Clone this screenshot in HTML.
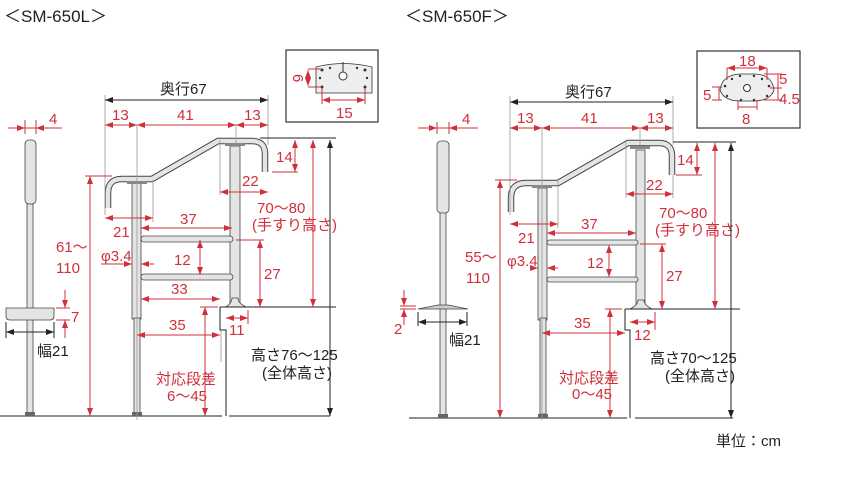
<!DOCTYPE html>
<html><head><meta charset="utf-8"><style>
body{margin:0;background:#fff;}
svg{display:block;font-family:"Liberation Sans","Noto Sans CJK JP",sans-serif;}
.r{stroke:#d0303a;stroke-width:1;fill:none}
.g{stroke:#999;stroke-width:0.8;fill:none}
.k{stroke:#222;stroke-width:1;fill:none}
.t{fill:#d0303a;font-size:15px;font-family:"Liberation Sans","Noto Sans CJK JP",sans-serif}
.tk{fill:#222;font-size:15px;font-family:"Liberation Sans","Noto Sans CJK JP",sans-serif}
.pole{fill:#e4e4e4;stroke:#444;stroke-width:0.8}
</style></head><body>
<svg width="850" height="500" viewBox="0 0 850 500" xmlns="http://www.w3.org/2000/svg">
<defs>
<marker id="a" viewBox="0 0 8 6" refX="8" refY="3" markerWidth="8" markerHeight="6" orient="auto-start-reverse"><path d="M0,0L8,3L0,6z" fill="#d0303a"/></marker>
<marker id="b" viewBox="0 0 8 6" refX="8" refY="3" markerWidth="8" markerHeight="6" orient="auto-start-reverse"><path d="M0,0L8,3L0,6z" fill="#222"/></marker>
</defs>
<text x="4" y="22" font-size="17" fill="#222">＜SM-650L＞</text>
<text x="405" y="22" font-size="17" fill="#222">＜SM-650F＞</text>

<!-- ========== LEFT ========== -->
<line class="k" x1="0" y1="416" x2="222" y2="416"/>
<line class="k" x1="229" y1="416" x2="330" y2="416"/>
<rect class="pole" x="27" y="200" width="6" height="214"/>
<rect class="pole" x="25" y="140" width="11" height="64" rx="4"/>
<path class="pole" d="M6,308 H54 V316 Q54,320 50,320 H10 Q6,320 6,316z"/>
<rect x="25" y="412" width="10" height="4" fill="#666"/>
<line class="r" x1="8" y1="128" x2="62" y2="128"/>
<line class="r" x1="14" y1="128" x2="25" y2="128" marker-end="url(#a)"/>
<line class="r" x1="47" y1="128" x2="36" y2="128" marker-end="url(#a)"/>
<line class="r" x1="25" y1="120" x2="25" y2="134"/><line class="r" x1="36" y1="120" x2="36" y2="134"/>
<text class="t" x="49" y="124">4</text>
<line class="r" x1="56" y1="308" x2="70" y2="308"/><line class="r" x1="56" y1="320" x2="70" y2="320"/>
<line class="r" x1="65" y1="290" x2="65" y2="308" marker-end="url(#a)"/>
<line class="r" x1="65" y1="338" x2="65" y2="320" marker-end="url(#a)"/>
<text class="t" x="71" y="322">7</text>
<line class="k" x1="6" y1="322" x2="6" y2="338"/><line class="k" x1="54" y1="322" x2="54" y2="338"/>
<line class="k" x1="6" y1="332" x2="54" y2="332" marker-start="url(#b)" marker-end="url(#b)"/>
<text class="tk" x="37" y="356">幅21</text>

<rect class="pole" x="132" y="183" width="9" height="136"/>
<rect class="pole" x="134" y="318" width="6" height="96"/>
<rect x="132" y="412" width="10" height="4" fill="#666"/>
<rect class="pole" x="230" y="146" width="10" height="160"/>
<path class="pole" d="M226,307 Q232,303 232,298 H238 Q238,303 246,307z"/>
<rect class="pole" x="141" y="236" width="92" height="6" rx="3"/>
<rect class="pole" x="141" y="274" width="92" height="6" rx="3"/>
<path d="M108,208 V193 Q108,179 122,179 H152 L218,141 H252 Q265,141 265,154 V172" stroke="#444" stroke-width="6.5" fill="none"/>
<path d="M108,208 V193 Q108,179 122,179 H152 L218,141 H252 Q265,141 265,154 V172" stroke="#e4e4e4" stroke-width="4.5" fill="none"/>
<rect x="127" y="181" width="20" height="3" fill="#888"/>
<rect x="225" y="143" width="20" height="3" fill="#888"/>
<line class="k" x1="220" y1="307" x2="336" y2="307"/>
<path class="k" d="M220,307 V330 H226 V416"/>
<line class="g" x1="105" y1="95" x2="105" y2="215"/>
<line class="g" x1="268" y1="95" x2="268" y2="145"/>
<line x1="105" y1="100" x2="268" y2="100" stroke="#222" marker-start="url(#b)" marker-end="url(#b)"/>
<text class="tk" x="160" y="94">奥行67</text>
<line class="r" x1="105" y1="125" x2="137" y2="125" marker-start="url(#a)" marker-end="url(#a)"/>
<line class="r" x1="137" y1="125" x2="236" y2="125" marker-start="url(#a)" marker-end="url(#a)"/>
<line class="r" x1="236" y1="125" x2="268" y2="125" marker-start="url(#a)" marker-end="url(#a)"/>
<line class="g" x1="137" y1="125" x2="137" y2="420"/>
<line class="g" x1="236" y1="125" x2="236" y2="145"/>
<text class="t" x="112" y="120">13</text><text class="t" x="177" y="120">41</text><text class="t" x="244" y="120">13</text>
<line class="r" x1="85" y1="176" x2="112" y2="176"/>
<line class="r" x1="90" y1="176" x2="90" y2="416" marker-start="url(#a)" marker-end="url(#a)"/>
<text class="t" x="56" y="252">61～</text><text class="t" x="56" y="273">110</text>
<line class="g" x1="153" y1="180" x2="153" y2="222"/>
<line class="r" x1="105" y1="218" x2="153" y2="218" marker-start="url(#a)" marker-end="url(#a)"/>
<text class="t" x="113" y="237">21</text>
<line class="r" x1="141" y1="228" x2="232" y2="228" marker-start="url(#a)" marker-end="url(#a)"/>
<text class="t" x="180" y="224">37</text>
<line class="r" x1="200" y1="240" x2="200" y2="275" marker-start="url(#a)" marker-end="url(#a)"/>
<text class="t" x="174" y="265">12</text>
<line class="r" x1="101" y1="264" x2="132" y2="264" marker-end="url(#a)"/>
<line class="r" x1="154" y1="264" x2="141" y2="264" marker-end="url(#a)"/>
<text class="t" x="101" y="261">φ3.4</text>
<line class="r" x1="236" y1="240" x2="264" y2="240"/>
<line class="r" x1="260" y1="240" x2="260" y2="307" marker-start="url(#a)" marker-end="url(#a)"/>
<text class="t" x="264" y="279">27</text>
<line class="g" x1="220" y1="140" x2="220" y2="195"/>
<line class="r" x1="220" y1="192" x2="268" y2="192" marker-start="url(#a)" marker-end="url(#a)"/>
<text class="t" x="242" y="186">22</text>
<line class="r" x1="272" y1="172" x2="298" y2="172"/>
<line class="r" x1="295" y1="140" x2="295" y2="172" marker-start="url(#a)" marker-end="url(#a)"/>
<text class="t" x="276" y="162">14</text>
<line class="k" x1="260" y1="138" x2="336" y2="138"/>
<line class="r" x1="313" y1="140" x2="313" y2="307" marker-start="url(#a)" marker-end="url(#a)"/>
<text class="t" x="257" y="213">70～80</text><text class="t" x="252" y="230" font-size="13">(手すり高さ)</text>
<line x1="330" y1="140" x2="330" y2="416" stroke="#222" marker-start="url(#b)" marker-end="url(#b)"/>
<text class="tk" x="251" y="360">高さ76～125</text><text class="tk" x="262" y="378">(全体高さ)</text>
<line class="r" x1="141" y1="299" x2="220" y2="299" marker-start="url(#a)" marker-end="url(#a)"/>
<text class="t" x="171" y="294">33</text>
<line class="g" x1="221" y1="330" x2="221" y2="362"/>
<line class="r" x1="137" y1="335" x2="220" y2="335" marker-start="url(#a)" marker-end="url(#a)"/>
<text class="t" x="169" y="330">35</text>
<line class="r" x1="248" y1="310" x2="248" y2="324"/>
<line class="r" x1="226" y1="318" x2="248" y2="318" marker-start="url(#a)" marker-end="url(#a)"/>
<text class="t" x="229" y="335">11</text>
<line class="r" x1="200" y1="307" x2="218" y2="307"/>
<line class="r" x1="205" y1="307" x2="205" y2="416" marker-start="url(#a)" marker-end="url(#a)"/>
<text class="t" x="156" y="384" font-size="14">対応段差</text><text class="t" x="167" y="401">6～45</text>
<rect x="286" y="50" width="92" height="72" fill="#fff" stroke="#333" stroke-width="1.2"/>
<path d="M316,67 Q343,60 372,67 V93 H316z" fill="#eee" stroke="#333" stroke-width="0.8"/>
<line x1="343" y1="62" x2="343" y2="73" stroke="#333"/>
<circle cx="343" cy="76" r="4" fill="#fff" stroke="#333"/>
<g fill="#333"><circle cx="322" cy="70" r="1.5"/><circle cx="330" cy="68" r="1.2"/><circle cx="357" cy="68" r="1.2"/><circle cx="365" cy="70" r="1.5"/><circle cx="320" cy="78" r="1.2"/><circle cx="367" cy="78" r="1.2"/><circle cx="322" cy="87" r="1.5"/><circle cx="365" cy="87" r="1.5"/></g>
<line class="r" x1="308" y1="69" x2="322" y2="69"/><line class="r" x1="308" y1="87" x2="322" y2="87"/>
<line class="r" x1="308" y1="70" x2="308" y2="86" marker-start="url(#a)" marker-end="url(#a)"/>
<text class="t" font-size="12" transform="translate(293,74) rotate(90)">6</text>
<line class="r" x1="322" y1="88" x2="322" y2="104"/><line class="r" x1="365" y1="88" x2="365" y2="104"/>
<line class="r" x1="322" y1="100" x2="365" y2="100" marker-start="url(#a)" marker-end="url(#a)"/>
<text class="t" x="336" y="118">15</text>

<!-- ========== RIGHT ========== -->
<line class="k" x1="409" y1="418" x2="627" y2="418"/>
<line class="k" x1="635" y1="418" x2="733" y2="418"/>
<rect class="pole" x="440" y="210" width="6" height="206"/>
<rect class="pole" x="437" y="141" width="12" height="72" rx="4"/>
<path d="M418,309 L438,305 H448 L468,309z" fill="#ccc" stroke="#444" stroke-width="0.8"/>
<rect x="438" y="414" width="10" height="4" fill="#666"/>
<line class="r" x1="418" y1="128" x2="478" y2="128"/>
<line class="r" x1="427" y1="128" x2="437" y2="128" marker-end="url(#a)"/>
<line class="r" x1="458" y1="128" x2="449" y2="128" marker-end="url(#a)"/>
<line class="r" x1="437" y1="122" x2="437" y2="134"/><line class="r" x1="449" y1="122" x2="449" y2="134"/>
<text class="t" x="462" y="124">4</text>
<line class="r" x1="400" y1="306" x2="416" y2="306"/><line class="r" x1="400" y1="309" x2="416" y2="309"/>
<line class="r" x1="404" y1="290" x2="404" y2="306" marker-end="url(#a)"/>
<line class="r" x1="404" y1="325" x2="404" y2="309" marker-end="url(#a)"/>
<text class="t" x="394" y="334">2</text>
<line class="k" x1="418" y1="312" x2="418" y2="326"/><line class="k" x1="467" y1="312" x2="467" y2="326"/>
<line class="k" x1="418" y1="322" x2="467" y2="322" marker-start="url(#b)" marker-end="url(#b)"/>
<text class="tk" x="449" y="345">幅21</text>

<rect class="pole" x="538" y="188" width="9" height="132"/>
<rect class="pole" x="540" y="318" width="6" height="96"/>
<rect x="538" y="414" width="10" height="4" fill="#666"/>
<rect class="pole" x="636" y="150" width="9" height="158"/>
<path class="pole" d="M630,309 Q638,305 638,300 H644 Q644,305 652,309z"/>
<rect class="pole" x="547" y="240" width="91" height="5" rx="2.5"/>
<rect class="pole" x="547" y="277" width="91" height="5" rx="2.5"/>
<path d="M511,212 V198 Q511,183 526,183 H558 L628,143 H659 Q672,143 672,156 V175" stroke="#444" stroke-width="6.5" fill="none"/>
<path d="M511,212 V198 Q511,183 526,183 H558 L628,143 H659 Q672,143 672,156 V175" stroke="#e4e4e4" stroke-width="4.5" fill="none"/>
<rect x="532" y="185" width="20" height="3" fill="#888"/>
<rect x="630" y="146" width="20" height="3" fill="#888"/>
<line class="k" x1="625" y1="309" x2="740" y2="309"/>
<path class="k" d="M625,309 V330 H630 V418"/>
<line class="g" x1="510" y1="96" x2="510" y2="215"/>
<line class="g" x1="673" y1="96" x2="673" y2="145"/>
<line x1="510" y1="102" x2="673" y2="102" stroke="#222" marker-start="url(#b)" marker-end="url(#b)"/>
<text class="tk" x="565" y="97">奥行67</text>
<line class="r" x1="510" y1="128" x2="542" y2="128" marker-start="url(#a)" marker-end="url(#a)"/>
<line class="r" x1="542" y1="128" x2="640" y2="128" marker-start="url(#a)" marker-end="url(#a)"/>
<line class="r" x1="640" y1="128" x2="673" y2="128" marker-start="url(#a)" marker-end="url(#a)"/>
<line class="g" x1="542" y1="128" x2="542" y2="420"/>
<line class="g" x1="640" y1="128" x2="640" y2="145"/>
<text class="t" x="517" y="123">13</text><text class="t" x="581" y="123">41</text><text class="t" x="647" y="123">13</text>
<line class="r" x1="495" y1="180" x2="517" y2="180"/>
<line class="r" x1="500" y1="180" x2="500" y2="418" marker-start="url(#a)" marker-end="url(#a)"/>
<text class="t" x="465" y="262">55～</text><text class="t" x="466" y="283">110</text>
<line class="g" x1="558" y1="180" x2="558" y2="228"/>
<line class="r" x1="510" y1="224" x2="558" y2="224" marker-start="url(#a)" marker-end="url(#a)"/>
<text class="t" x="518" y="243">21</text>
<line class="r" x1="547" y1="233" x2="636" y2="233" marker-start="url(#a)" marker-end="url(#a)"/>
<text class="t" x="581" y="229">37</text>
<line class="r" x1="609" y1="245" x2="609" y2="277" marker-start="url(#a)" marker-end="url(#a)"/>
<text class="t" x="587" y="268">12</text>
<line class="r" x1="532" y1="268" x2="538" y2="268" marker-end="url(#a)"/>
<line class="r" x1="558" y1="268" x2="547" y2="268" marker-end="url(#a)"/>
<text class="t" x="507" y="266">φ3.4</text>
<line class="r" x1="640" y1="244" x2="666" y2="244"/>
<line class="r" x1="662" y1="244" x2="662" y2="309" marker-start="url(#a)" marker-end="url(#a)"/>
<text class="t" x="666" y="281">27</text>
<line class="g" x1="626" y1="142" x2="626" y2="198"/>
<line class="g" x1="673" y1="175" x2="673" y2="198"/>
<line class="r" x1="626" y1="194" x2="673" y2="194" marker-start="url(#a)" marker-end="url(#a)"/>
<text class="t" x="646" y="190">22</text>
<line class="r" x1="676" y1="175" x2="702" y2="175"/>
<line class="r" x1="697" y1="143" x2="697" y2="175" marker-start="url(#a)" marker-end="url(#a)"/>
<text class="t" x="677" y="165">14</text>
<line class="k" x1="673" y1="142" x2="736" y2="142"/>
<line class="r" x1="715" y1="143" x2="715" y2="309" marker-start="url(#a)" marker-end="url(#a)"/>
<text class="t" x="659" y="218">70～80</text><text class="t" x="655" y="235" font-size="13">(手すり高さ)</text>
<line x1="731" y1="143" x2="731" y2="418" stroke="#222" marker-start="url(#b)" marker-end="url(#b)"/>
<text class="tk" x="650" y="363">高さ70～125</text><text class="tk" x="665" y="381">(全体高さ)</text>
<line class="r" x1="542" y1="333" x2="625" y2="333" marker-start="url(#a)" marker-end="url(#a)"/>
<text class="t" x="574" y="328">35</text>
<line class="r" x1="655" y1="312" x2="655" y2="330"/>
<line class="r" x1="630" y1="322" x2="655" y2="322" marker-start="url(#a)" marker-end="url(#a)"/>
<text class="t" x="634" y="340">12</text>
<line class="r" x1="605" y1="309" x2="622" y2="309"/>
<line class="r" x1="610" y1="309" x2="610" y2="418" marker-start="url(#a)" marker-end="url(#a)"/>
<text class="t" x="559" y="383" font-size="14">対応段差</text><text class="t" x="572" y="399">0～45</text>
<rect x="697" y="51" width="103" height="77" fill="#fff" stroke="#333" stroke-width="1.2"/>
<path d="M720,90 Q722,75 740,74 Q748,74 756,74 Q772,75 774,90 Q770,102 750,101 H744 Q724,102 720,90z" fill="#eee" stroke="#333" stroke-width="0.8"/>
<circle cx="747" cy="88" r="3.5" fill="#fff" stroke="#333"/>
<g fill="#333"><circle cx="725" cy="86" r="1.3"/><circle cx="769" cy="86" r="1.3"/><circle cx="740" cy="76" r="1.2"/><circle cx="754" cy="76" r="1.2"/><circle cx="732" cy="79" r="1.2"/><circle cx="762" cy="79" r="1.2"/><circle cx="727" cy="96" r="1.2"/><circle cx="767" cy="96" r="1.2"/><circle cx="741" cy="100" r="1.2"/><circle cx="754" cy="100" r="1.2"/></g>
<line class="r" x1="727" y1="68" x2="767" y2="68" marker-start="url(#a)" marker-end="url(#a)"/>
<line class="r" x1="727" y1="68" x2="727" y2="80"/><line class="r" x1="767" y1="68" x2="767" y2="80"/>
<text class="t" x="739" y="66">18</text>
<line class="r" x1="764" y1="74" x2="782" y2="74"/><line class="r" x1="770" y1="88" x2="782" y2="88"/><line class="r" x1="764" y1="100" x2="782" y2="100"/>
<line class="r" x1="778" y1="74" x2="778" y2="100"/>
<text class="t" x="779" y="84">5</text><text class="t" x="779" y="104">4.5</text>
<line class="r" x1="712" y1="87" x2="722" y2="87"/><line class="r" x1="712" y1="100" x2="722" y2="100"/>
<line class="r" x1="719" y1="87" x2="719" y2="100"/>
<text class="t" x="703" y="100">5</text>
<line class="r" x1="738" y1="100" x2="738" y2="110"/><line class="r" x1="757" y1="100" x2="757" y2="110"/>
<line class="r" x1="738" y1="107" x2="757" y2="107"/>
<text class="t" x="742" y="124">8</text>

<text class="tk" x="716" y="446" font-size="13">単位：cm</text>
</svg>
</body></html>
